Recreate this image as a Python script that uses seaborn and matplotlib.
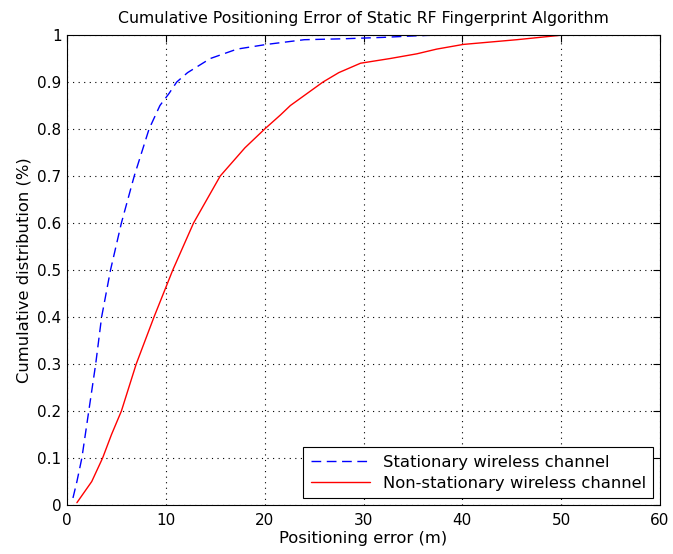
import matplotlib
matplotlib.use("Agg")
import matplotlib.pyplot as plt
import seaborn as sns
import pandas as pd

# Stationary wireless channel (x: positioning error m, y: cumulative distribution)
stat_x = [0.6, 1.0, 1.5, 2.2, 2.9, 3.5, 4.4, 5.5, 6.8, 8.3, 9.4, 10.3, 11.1, 12.2, 14.5, 17.2, 20.2, 24.0, 28.0, 32.0, 35.0, 37.5]
stat_y = [0.015, 0.05, 0.10, 0.20, 0.30, 0.40, 0.50, 0.60, 0.70, 0.80, 0.85, 0.875, 0.90, 0.92, 0.95, 0.97, 0.98, 0.99, 0.992, 0.995, 0.998, 1.0]

# Non-stationary wireless channel
non_x = [1.0, 1.5, 2.5, 3.6, 4.5, 5.5, 7.0, 8.8, 10.7, 12.8, 15.5, 18.0, 20.0, 21.6, 22.6, 25.9, 27.5, 29.7, 32.7, 35.4, 37.4, 40.1, 45.5, 50.2, 53.7]
non_y = [0.005, 0.02, 0.05, 0.10, 0.15, 0.20, 0.30, 0.40, 0.50, 0.60, 0.70, 0.76, 0.80, 0.83, 0.85, 0.90, 0.92, 0.94, 0.95, 0.96, 0.97, 0.98, 0.99, 1.0, 1.0]

x_ticks = [0, 10, 20, 30, 40, 50, 60]
y_ticks = [0, 0.1, 0.2, 0.3, 0.4, 0.5, 0.6, 0.7, 0.8, 0.9, 1]
y_tick_labels = ["0", "0.1", "0.2", "0.3", "0.4", "0.5", "0.6", "0.7", "0.8", "0.9", "1"]

labels = ["Stationary wireless channel", "Non-stationary wireless channel"]

sns.set_style("white")
plt.rcParams['font.family'] = ['DejaVu Sans']
plt.rcParams['text.color'] = 'black'
plt.rcParams['axes.labelcolor'] = 'black'

df_s = pd.DataFrame({"x": stat_x, "y": stat_y})
df_n = pd.DataFrame({"x": non_x, "y": non_y})

fig = plt.figure(figsize=(6.73, 5.54), dpi=100)
ax = fig.add_axes([0.0996, 0.0884, 0.8811, 0.8484])

sns.lineplot(data=df_s, x="x", y="y", ax=ax, color="#0000ff", linewidth=1.0,
             label=labels[0], estimator=None, sort=False)
ax.lines[-1].set_dashes([7, 4])
sns.lineplot(data=df_n, x="x", y="y", ax=ax, color="#ff0000", linewidth=1.0,
             label=labels[1], estimator=None, sort=False)

ax.set_xlim(0, 60)
ax.set_ylim(0, 1)
ax.set_xticks(x_ticks)
ax.set_yticks(y_ticks)
ax.set_yticklabels(y_tick_labels)
ax.tick_params(direction="in", top=True, right=True, length=5, width=0.8,
               labelsize=11, colors="black")
ax.tick_params(axis="x", pad=6)
ax.tick_params(axis="y", pad=4)
ax.grid(True, linestyle=(0, (1, 4)), color="black", linewidth=0.8)
for s in ax.spines.values():
    s.set_color("black")
    s.set_linewidth(0.8)

ax.set_xlabel("Positioning error (m)", fontsize=11.8, labelpad=2, color="black")
ax.set_ylabel("Cumulative distribution (%)", fontsize=11.8, labelpad=4, color="black")
ax.set_title("Cumulative Positioning Error of Static RF Fingerprint Algorithm",
             fontsize=11.3, pad=9, color="black")

leg = ax.legend(loc="lower right", fontsize=11.8, frameon=True, fancybox=False,
                edgecolor="black", framealpha=1, borderaxespad=0.4,
                handlelength=3.6, borderpad=0.45, labelspacing=0.4)
leg.get_frame().set_linewidth(0.8)
for t in leg.get_texts():
    t.set_color("black")

fig.savefig("out.png", dpi=100)
